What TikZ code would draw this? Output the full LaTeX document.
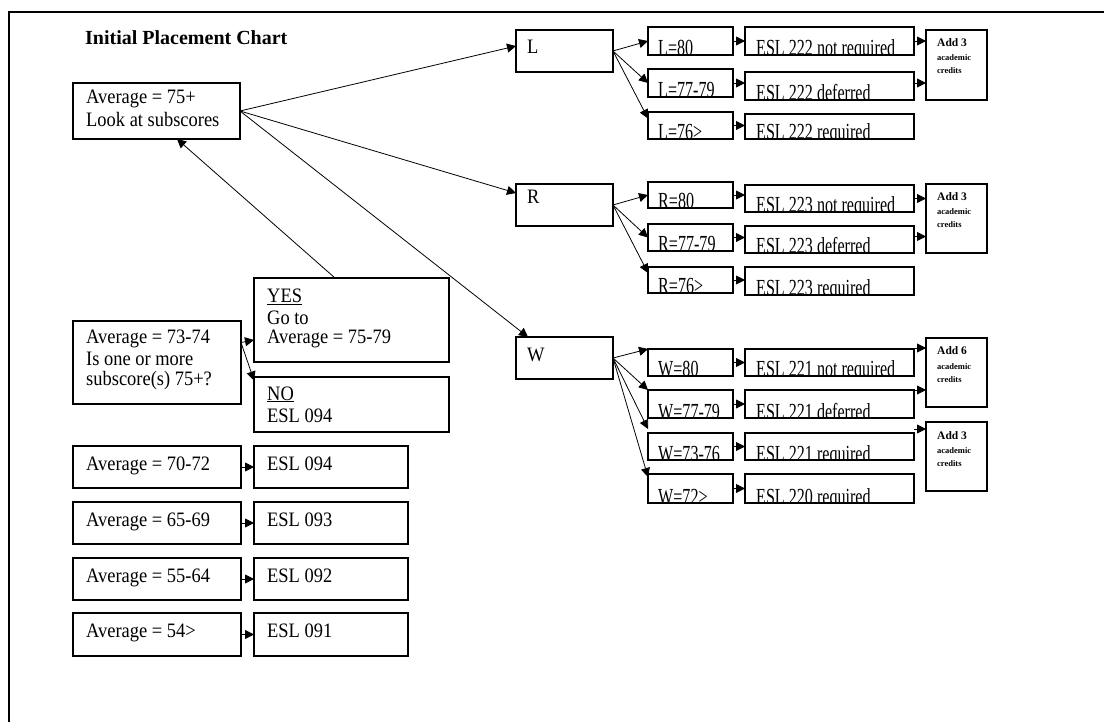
\documentclass[tikz,border=0pt]{standalone}
\usepackage{fontspec}
\setmainfont{Liberation Serif}
\newfontfamily\nf[FakeStretch=0.7]{Liberation Serif}
\newfontfamily\mf[FakeStretch=0.9]{Liberation Serif}
\usetikzlibrary{arrows.meta}
\tikzset{
 bx/.style={draw=black, line width=1.2pt, rectangle, inner sep=0pt, outer sep=0pt},
 t/.style={anchor=base west, inner sep=0pt, font=\mf\fontsize{20.5}{22}\selectfont},
 st/.style={anchor=base west, inner sep=0pt, font=\nf\fontsize{23}{23}\selectfont},
 ad/.style={anchor=base west, inner sep=0pt, font=\bfseries\fontsize{11.5}{12}\selectfont},
 ads/.style={anchor=base west, inner sep=0pt, font=\bfseries\fontsize{8.5}{9}\selectfont},
 arr/.style={line width=0.8pt, -{Triangle[length=9pt,width=9pt]}},
}
\newcommand\bx[5]{\node[bx, minimum width={(#4-#2)*1pt}, minimum height={(#5-#3)*1pt}] (#1) at ({(#2+#4)/2},{(#3+#5)/2}) {};}
\newcommand\cl[4]{\begin{scope}\clip (#1.south west) rectangle (#1.north east);\node[st] (#1t) at (#2,#3) {#4};\end{scope}}
\newcommand\adbox[3]{\node[ad] (#1a) at (937,#2+17) {Add #3};\node[ads] (#1b) at (937,#2+31) {academic};\node[ads] (#1c) at (937,#2+44) {credits};}
\begin{document}
\begin{tikzpicture}[x=1pt,y=-1pt]
\useasboundingbox (0,0) rectangle (1104,722);
\fill[white] (0,0) rectangle (1104,722);
\draw[line width=2pt] (9,722) -- (9,12) -- (1104,12);

\node[anchor=base west, inner sep=0pt, font=\bfseries\fontsize{20}{24}\selectfont] (title) at (85,45) {Initial Placement Chart};

% left column
\bx{a75}{73}{83}{240}{139}
\node[t] (a75t1) at (86,104) {Average = 75+};
\node[t] (a75t2) at (86,127) {Look at subscores};

\bx{a73}{73}{321}{241}{404}
\node[t] (a73t1) at (86,343) {Average = 73-74};
\node[t] (a73t2) at (86,365) {Is one or more};
\node[t] (a73t3) at (86,385) {subscore(s) 75+?};

\bx{yes}{254}{278}{449}{362}
\node[t] (yest1) at (267,303) {\underline{YES}};
\node[t] (yest2) at (267,324) {Go to};
\node[t] (yest3) at (267,343) {Average = 75-79};

\bx{no}{254}{377}{449}{432}
\node[t] (not1) at (267,400) {\underline{NO}};
\node[t] (not2) at (267,422) {ESL 094};

\bx{a70}{73}{446}{241}{488}
\node[t] (a70t) at (86,470) {Average = 70-72};
\bx{e94}{254}{446}{408}{488}
\node[t] (e94t) at (267,470) {ESL 094};

\bx{a65}{73}{502}{241}{544}
\node[t] (a65t) at (86,526) {Average = 65-69};
\bx{e93}{254}{502}{408}{544}
\node[t] (e93t) at (267,526) {ESL 093};

\bx{a55}{73}{558}{241}{600}
\node[t] (a55t) at (86,582) {Average = 55-64};
\bx{e92}{254}{558}{408}{600}
\node[t] (e92t) at (267,582) {ESL 092};

\bx{a54}{73}{613}{241}{656}
\node[t] (a54t) at (86,637) {Average = 54>};
\bx{e91}{254}{613}{408}{656}
\node[t] (e91t) at (267,637) {ESL 091};

% L R W
\bx{L}{516}{30}{613}{72}
\node[t] (Lt) at (527,54) {L};
\bx{R}{516}{184}{613}{226}
\node[t] (Rt) at (527,204) {R};
\bx{W}{516}{337}{613}{379}
\node[t] (Wt) at (527,361) {W};

% L group
\bx{L80}{648}{27}{733}{55}   \cl{L80}{658}{56}{L=80}
\bx{L77}{648}{69}{733}{97}   \cl{L77}{658}{98}{L=77-79}
\bx{L76}{648}{112}{733}{139} \cl{L76}{658}{140}{L=76>}
\bx{LE1}{745}{27}{914}{55}   \cl{LE1}{756}{56}{ESL 222 not required}
\bx{LE2}{745}{72}{914}{100}  \cl{LE2}{756}{101}{ESL 222 deferred}
\bx{LE3}{745}{114}{914}{139} \cl{LE3}{756}{140}{ESL 222 required}
\bx{LA}{926}{30}{987}{100}   \adbox{LA}{30}{3}

% R group
\bx{R80}{648}{182}{733}{208} \cl{R80}{658}{209}{R=80}
\bx{R77}{648}{224}{733}{251} \cl{R77}{658}{252}{R=77-79}
\bx{R76}{648}{267}{733}{293} \cl{R76}{658}{294}{R=76>}
\bx{RE1}{745}{185}{914}{212} \cl{RE1}{756}{213}{ESL 223 not required}
\bx{RE2}{745}{226}{914}{253} \cl{RE2}{756}{254}{ESL 223 deferred}
\bx{RE3}{745}{267}{914}{295} \cl{RE3}{756}{296}{ESL 223 required}
\bx{RA}{926}{184}{987}{253}  \adbox{RA}{184}{3}

% W group
\bx{W80}{648}{349}{733}{376} \cl{W80}{658}{377}{W=80}
\bx{W77}{648}{390}{733}{418} \cl{W77}{658}{419}{W=77-79}
\bx{W73}{648}{433}{733}{460} \cl{W73}{658}{461}{W=73-76}
\bx{W72}{648}{474}{733}{503} \cl{W72}{658}{504}{W=72>}
\bx{WE1}{745}{349}{914}{376} \cl{WE1}{756}{377}{ESL 221 not required}
\bx{WE2}{745}{390}{914}{418} \cl{WE2}{756}{419}{ESL 221 deferred}
\bx{WE3}{745}{433}{914}{460} \cl{WE3}{756}{461}{ESL 221 required}
\bx{WE4}{745}{474}{914}{503} \cl{WE4}{756}{504}{ESL 220 required}
\bx{WA6}{926}{338}{987}{407} \adbox{WA6}{338}{6}
\bx{WA3}{926}{422}{987}{491} \adbox{WA3}{422}{3}

% main arrows
\draw[arr] (a75.east) -- ([yshift=5pt]L.west);
\draw[arr] (a75.east) -- ([yshift=12pt]R.west);
\draw[arr] (a75.east) -- ([xshift=12pt]W.north west);
\draw[arr] ([xshift=81pt]yes.north west) -- ([xshift=104pt]a75.south west);
\draw[arr] ([yshift=20pt]a73.east) -- ([yshift=-20pt]yes.west);
\draw[arr] ([yshift=20pt]a73.east) -- ([yshift=24pt]no.west);
\foreach \a/\b in {a70/e94,a65/e93,a55/e92,a54/e91}
  \draw[arr] (\a.east) -- (\b.west);

% L sub arrows
\draw[arr] (L.east) -- (L80.west);
\draw[arr] (L.east) -- (L77.west);
\draw[arr] (L.east) -- ([yshift=7pt]L76.west);
\draw[arr] (L80.east) -- (L80.east -| LE1.west);
\draw[arr] (L77.east) -- (L77.east -| LE2.west);
\draw[arr] (L76.east) -- (L76.east -| LE3.west);
\draw[arr] (LE1.east) -- (LE1.east -| LA.west);
\draw[arr] ([yshift=3pt]LE2.east) -- ([yshift=3pt]LE2.east -| LA.west);

% R sub arrows
\draw[arr] (R.east) -- (R80.west);
\draw[arr] (R.east) -- (R77.west);
\draw[arr] (R.east) -- ([yshift=7pt]R76.west);
\draw[arr] (R80.east) -- (R80.east -| RE1.west);
\draw[arr] (R77.east) -- (R77.east -| RE2.west);
\draw[arr] (R76.east) -- (R76.east -| RE3.west);
\draw[arr] (RE1.east) -- (RE1.east -| RA.west);
\draw[arr] ([yshift=3pt]RE2.east) -- ([yshift=3pt]RE2.east -| RA.west);

% W sub arrows
\draw[arr] (W.east) -- (W80.north west);
\draw[arr] (W.east) -- (W77.north west);
\draw[arr] (W.east) -- ([yshift=4pt]W73.north west);
\draw[arr] (W.east) -- ([yshift=-3pt]W72.north west);
\draw[arr] (W80.east) -- (W80.east -| WE1.west);
\draw[arr] (W77.east) -- (W77.east -| WE2.west);
\draw[arr] (W73.east) -- (W73.east -| WE3.west);
\draw[arr] (W72.east) -- (W72.east -| WE4.west);
\draw[arr] ([yshift=1pt]WE1.north east) -- ([yshift=1pt]WE1.north east -| WA6.west);
\draw[arr] (WE2.north east) -- (WE2.north east -| WA6.west);
\draw[arr] ([yshift=4pt]WE3.north east) -- ([yshift=4pt]WE3.north east -| WA3.west);
\end{tikzpicture}
\end{document}
